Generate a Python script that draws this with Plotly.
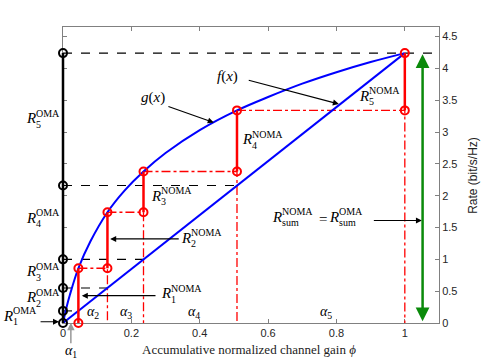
import plotly.graph_objects as go

# ---- data ----
phi = [0, 0.045, 0.13, 0.2355, 0.509, 1.0]          # accumulative normalized channel gains
g_noma = [0, 0.86, 1.74, 2.38, 3.34, 4.24]          # g(phi_k)  (NOMA cumulative rates)
r_oma = [0, 0.19, 0.55, 1.0, 2.16, 4.24]            # f(phi_k)  (OMA cumulative rates)
g_x = [0, 0.01, 0.02, 0.045, 0.08, 0.13, 0.18, 0.2355, 0.3, 0.4, 0.509, 0.6, 0.7, 0.8, 0.9, 1.0]
g_y = [0, 0.24, 0.44, 0.86, 1.28, 1.74, 2.08, 2.38, 2.67, 3.03, 3.34, 3.55, 3.76, 3.94, 4.10, 4.24]
f_x = [0, 1.0]
f_y = [0, 4.24]
x_ticks = [0, 0.2, 0.4, 0.6, 0.8, 1.0]
x_tick_text = ["0", "0.2", "0.4", "0.6", "0.8", "1"]
y_ticks = [0, 0.5, 1, 1.5, 2, 2.5, 3, 3.5, 4, 4.5]
y_tick_text = ["0", "0.5", "1", "1.5", "2", "2.5", "3", "3.5", "4", "4.5"]
alpha_labels = ["1", "2", "3", "4", "5"]
alpha_x = [0.023, 0.087, 0.185, 0.382, 0.768]

XMAX = 1.1
YMAX = 4.65
SERIF = "Liberation Serif"
SANS = "Liberation Sans, Arial, sans-serif"
RED = "#ff0000"
BLUE = "#0000ff"
GREEN = "#0a8a0a"

fig = go.Figure()

# black dashed OMA levels
for k in range(1, len(phi)):
    xe = XMAX if k == len(phi) - 1 else phi[k]
    fig.add_trace(go.Scatter(x=[0, xe], y=[r_oma[k], r_oma[k]], mode="lines",
                             line=dict(color="black", width=1.1, dash="dash"),
                             showlegend=False, hoverinfo="skip"))

# red dash-dot guides
for k in range(2, len(phi)):
    fig.add_trace(go.Scatter(x=[phi[k - 1], phi[k], phi[k]],
                             y=[g_noma[k - 1], g_noma[k - 1], 0], mode="lines",
                             line=dict(color=RED, width=1.3, dash="dashdot"),
                             showlegend=False, hoverinfo="skip"))

# curves
fig.add_trace(go.Scatter(x=g_x, y=g_y, mode="lines", line=dict(color=BLUE, width=2, shape="spline"),
                         showlegend=False, hoverinfo="skip"))
fig.add_trace(go.Scatter(x=f_x, y=f_y, mode="lines", line=dict(color=BLUE, width=2),
                         showlegend=False, hoverinfo="skip"))

# red NOMA increments
for k in range(1, len(phi)):
    fig.add_trace(go.Scatter(x=[phi[k], phi[k]], y=[g_noma[k - 1], g_noma[k]], mode="lines",
                             line=dict(color=RED, width=2.5), showlegend=False, hoverinfo="skip"))

# markers
fig.add_trace(go.Scatter(x=[0] * len(r_oma), y=r_oma, mode="markers", cliponaxis=False,
                         marker=dict(symbol="circle-open", size=8, color="black", line=dict(width=2)),
                         showlegend=False, hoverinfo="skip"))
fig.add_trace(go.Scatter(x=phi[1:] + phi[1:], y=g_noma[1:] + g_noma[:-1], mode="markers",
                         cliponaxis=False,
                         marker=dict(symbol="circle-open", size=8, color=RED, line=dict(width=2)),
                         showlegend=False, hoverinfo="skip"))

# black OMA bar on x=0 (shape so it is not clipped horizontally at the plot edge)
fig.add_shape(type="line", xref="paper", yref="y", x0=phi[0] / XMAX, x1=phi[0] / XMAX,
              y0=r_oma[0], y1=r_oma[-1], line=dict(color="black", width=2.5), layer="above")

ann = []


def px(x):
    return x / XMAX


def py(y):
    return y / YMAX


def rlab(x, y, sup, sub, size=15):
    ann.append(dict(x=px(x), y=py(y), xref="paper", yref="paper", text="<i>R</i>", showarrow=False,
                    xanchor="right", yanchor="middle", font=dict(family=SERIF, size=size, color="black")))
    ann.append(dict(x=px(x), y=py(y), xref="paper", yref="paper", text=sup, showarrow=False,
                    xanchor="left", yanchor="middle", yshift=5, xshift=-4,
                    font=dict(family=SERIF, size=10, color="black")))
    ann.append(dict(x=px(x), y=py(y), xref="paper", yref="paper", text=sub, showarrow=False,
                    xanchor="left", yanchor="middle", yshift=-6, xshift=-4,
                    font=dict(family=SERIF, size=10, color="black")))


def arrow(x0, y0, x1, y1, color="black", width=1.2, both=False, standoff=0, size=1.0):
    d = dict(x=x1, y=y1, ax=x0, ay=y0, xref="x", yref="y", axref="x", ayref="y", text="",
             showarrow=True, arrowhead=2, arrowsize=size, arrowwidth=width, arrowcolor=color,
             standoff=standoff, startstandoff=0)
    if both:
        d["arrowside"] = "end+start"
    ann.append(d)


def txt(x, y, s, size=15, family=SERIF):
    ann.append(dict(x=px(x), y=py(y), xref="paper", yref="paper", text=s, showarrow=False,
                    xanchor="center", yanchor="middle",
                    font=dict(family=family, size=size, color="black")))


# OMA labels
oma_lab_y = [0.115, 0.405, 0.81, 1.65, 3.22]
oma_lab_x = [-0.139, -0.073, -0.073, -0.073, -0.073]
for i in range(5):
    rlab(oma_lab_x[i], oma_lab_y[i], "OMA", str(i + 1))
arrow(-0.07, 0.02, 0.0, 0.02, standoff=4)

# NOMA labels
noma_lab_x = [0.323, 0.381, 0.292, 0.558, 0.902]
noma_lab_y = [0.47, 1.34, 2.0, 2.89, 3.57]
for i in range(5):
    rlab(noma_lab_x[i], noma_lab_y[i], "NOMA", str(i + 1))
arrow(0.275, 0.43, 0.055, 0.43)
arrow(0.343, 1.32, 0.138, 1.32)

# f(x), g(x)
txt(0.482, 3.88, "<i>f</i>(<i>x</i>)")
arrow(0.539, 3.82, 0.807, 3.44)
txt(0.264, 3.545, "<i>g</i>(<i>x</i>)")
arrow(0.304, 3.41, 0.441, 3.15)

# sum rate
rlab(0.646, 1.67, "NOMA", "sum")
txt(0.761, 1.64, "=")
rlab(0.812, 1.67, "OMA", "sum")
arrow(0.905, 1.61, 1.05, 1.61)
arrow(1.052, 0.002, 1.052, 4.22, color=GREEN, width=2.5, both=True, size=1.1)

# alpha labels
for i in range(1, 5):
    txt(alpha_x[i], 0.16, "<i>α</i><sub>" + alpha_labels[i] + "</sub>", size=14)
txt(alpha_x[0], -0.44, "<i>α</i><sub>" + alpha_labels[0] + "</sub>", size=14)
ann.append(dict(x=alpha_x[0], y=0.002, xref="x", yref="y", axref="pixel", ayref="pixel", ax=0, ay=22,
                text="", showarrow=True, arrowhead=2, arrowsize=1, arrowwidth=1.5,
                arrowcolor="#999999", standoff=0))

# axis titles
ann.append(dict(x=0.495, y=-0.09, xref="paper", yref="paper",
                text="Accumulative normalized channel gain <i>ϕ</i>", showarrow=False,
                xanchor="center", yanchor="middle", font=dict(family=SERIF, size=13, color="#222")))
ann.append(dict(x=1.09, y=0.5, xref="paper", yref="paper", text="Rate (bit/s/Hz)", textangle=-90,
                showarrow=False, xanchor="center", yanchor="middle",
                font=dict(family=SANS, size=12, color="#222")))

fig.update_layout(
    width=485, height=363,
    margin=dict(l=63, r=46, t=27, b=40),
    plot_bgcolor="white", paper_bgcolor="white",
    annotations=ann,
    xaxis=dict(range=[0, XMAX], tickvals=x_ticks, ticktext=x_tick_text, showgrid=False, zeroline=False,
               showline=True, linecolor="#808080", linewidth=1, mirror="ticks", ticks="inside",
               ticklen=4, tickcolor="#808080", layer="below traces",
               tickfont=dict(family=SANS, size=11, color="#262626")),
    yaxis=dict(range=[0, YMAX], tickvals=y_ticks, ticktext=y_tick_text, side="right", showgrid=False,
               zeroline=False, showline=True, linecolor="#808080", linewidth=1, mirror="ticks",
               ticks="inside", ticklen=4, tickcolor="#808080", layer="below traces",
               tickfont=dict(family=SANS, size=11, color="#262626")),
)

fig.write_html("out.html", config={"displayModeBar": False},
               post_script="document.body.style.margin='0px';")
